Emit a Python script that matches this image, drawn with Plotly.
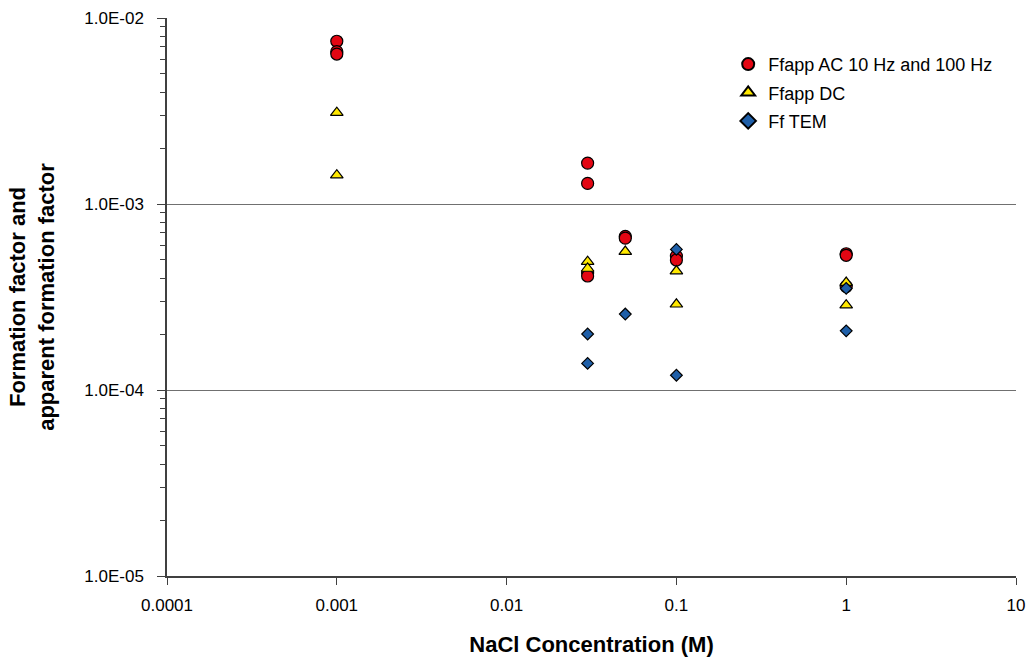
import plotly.graph_objects as go

# Ffapp AC 10 Hz and 100 Hz
ac_x = [0.001, 0.001, 0.001, 0.03, 0.03, 0.03, 0.03, 0.05, 0.05, 0.1, 0.1, 1, 1, 1]
ac_y = [7.5e-3, 6.6e-3, 6.4e-3, 1.66e-3, 1.29e-3, 4.25e-4, 4.1e-4, 6.7e-4, 6.55e-4, 5.25e-4, 5.0e-4, 5.4e-4, 5.3e-4, 3.6e-4]
# Ffapp DC
dc_x = [0.001, 0.001, 0.03, 0.03, 0.05, 0.1, 0.1, 1, 1]
dc_y = [3.1e-3, 1.43e-3, 4.9e-4, 4.5e-4, 5.55e-4, 4.36e-4, 2.89e-4, 3.78e-4, 2.86e-4]
# Ff TEM
tem_x = [0.03, 0.03, 0.05, 0.1, 0.1, 1, 1]
tem_y = [2.0e-4, 1.39e-4, 2.56e-4, 5.7e-4, 1.2e-4, 3.52e-4, 2.08e-4]

y_tickvals = [1e-5, 1e-4, 1e-3, 1e-2]
y_ticktext = ["1.0E-05", "1.0E-04", "1.0E-03", "1.0E-02"]
x_tickvals = [0.0001, 0.001, 0.01, 0.1, 1, 10]
x_ticktext = ["0.0001", "0.001", "0.01", "0.1", "1", "10"]

minor_y = [m * 10.0 ** e for e in (-5, -4, -3) for m in range(2, 10)]

FONT = "Liberation Sans, Arial, sans-serif"

fig = go.Figure()
fig.add_trace(go.Scatter(x=ac_x, y=ac_y, mode="markers", name="Ffapp AC 10 Hz and 100 Hz",
                         legendgroup="a",
                         marker=dict(symbol="circle", size=12, color="#E30613",
                                     line=dict(color="black", width=1.2))))
fig.add_trace(go.Scatter(x=dc_x, y=dc_y, mode="markers", name="Ffapp DC",
                         legendgroup="b",
                         marker=dict(symbol="triangle-up", size=11, color="#FFE800",
                                     line=dict(color="black", width=1.2))))
fig.add_trace(go.Scatter(x=tem_x, y=tem_y, mode="markers", name="Ff TEM",
                         legendgroup="c",
                         marker=dict(symbol="diamond", size=9, color="#1F5FA8",
                                     line=dict(color="black", width=1.2))))

fig.update_layout(
    width=1026, height=659,
    margin=dict(l=167, r=10, t=18, b=83),
    paper_bgcolor="white", plot_bgcolor="white",
    font=dict(family=FONT, size=17, color="black"),
    showlegend=True,
    legend=dict(x=0.661, y=0.95, xanchor="left", yanchor="top",
                font=dict(size=18), bgcolor="rgba(0,0,0,0)", itemsizing="constant",
                tracegroupgap=2),
    xaxis=dict(type="log", range=[-4, 1], tickvals=x_tickvals, ticktext=x_ticktext,
               automargin=False,
               showgrid=False, zeroline=False, showline=True, linecolor="#404040", linewidth=1.5,
               ticks="outside", ticklen=7, tickcolor="#404040", ticklabelstandoff=6,
               tickfont=dict(size=17),
               title=dict(text="<b>NaCl Concentration (M)</b>", font=dict(size=22), standoff=22)),
    yaxis=dict(type="log", range=[-5, -2], tickvals=y_tickvals, ticktext=y_ticktext,
               automargin=False,
               showgrid=True, gridcolor="#707070", gridwidth=1, zeroline=False,
               showline=True, linecolor="#404040", linewidth=1.5,
               ticks="outside", ticklen=8, tickcolor="#404040", ticklabelstandoff=10,
               tickfont=dict(size=17),
               minor=dict(tickvals=minor_y, ticks="outside", ticklen=5, tickcolor="#404040", showgrid=False),
               title=dict(text="<b>Formation factor and<br>apparent formation factor</b>",
                          font=dict(size=22), standoff=24)),
)

fig.write_html("out.html")
